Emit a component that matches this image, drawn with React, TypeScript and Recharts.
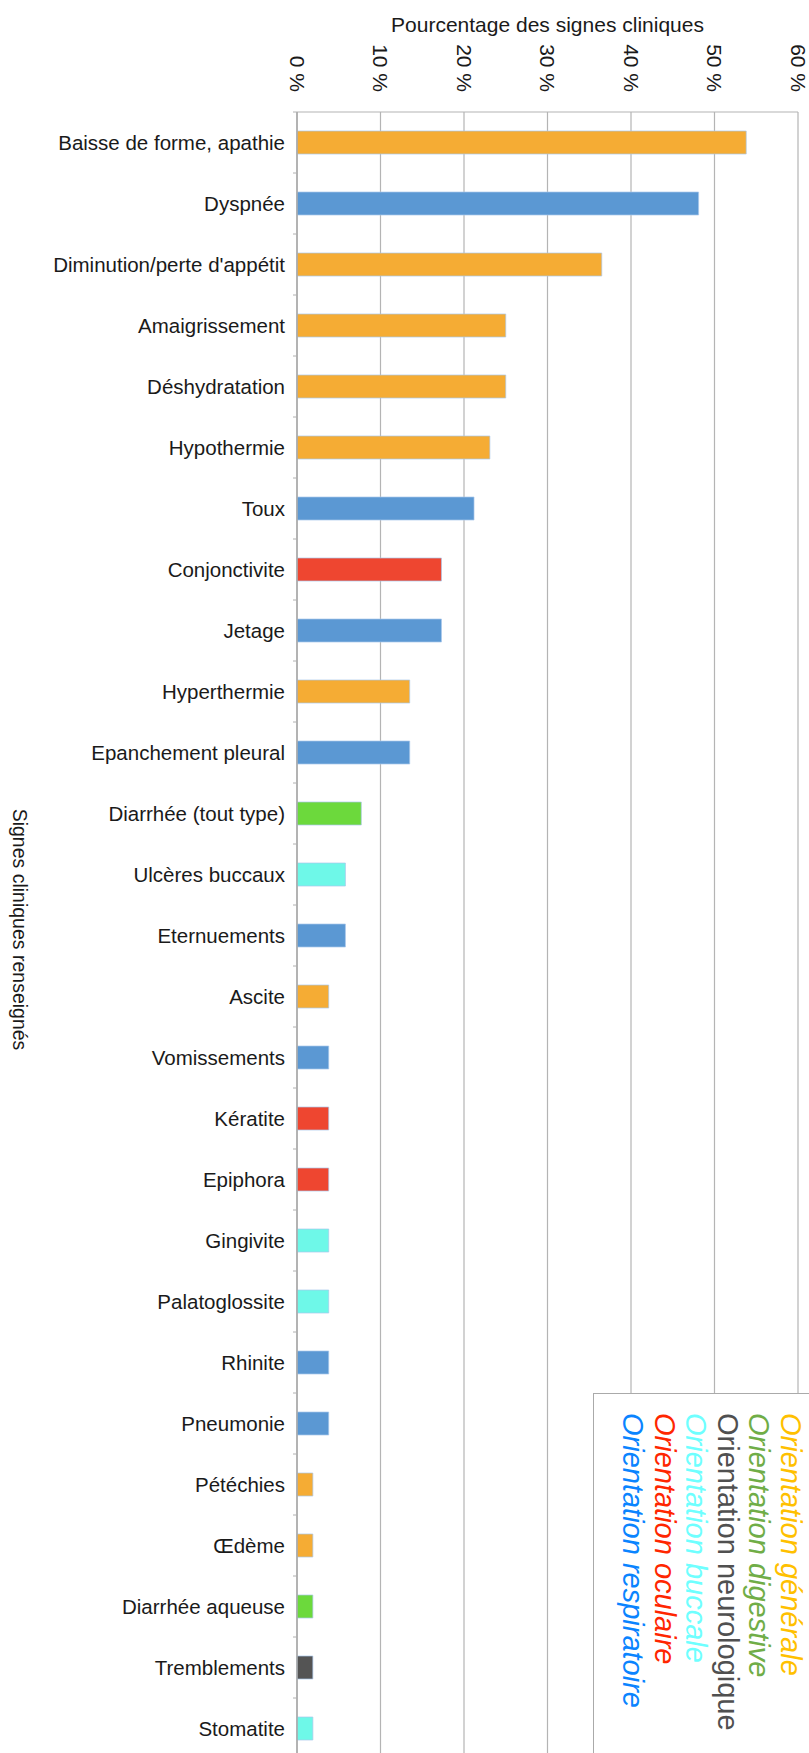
import { BarChart, Bar, XAxis, YAxis, CartesianGrid, Cell, Legend } from "recharts";

const FONT = '"Liberation Sans", Arial, Helvetica, sans-serif';

const CATEGORIES = [
  "Baisse de forme, apathie",
  "Dyspnée",
  "Diminution/perte d'appétit",
  "Amaigrissement",
  "Déshydratation",
  "Hypothermie",
  "Toux",
  "Conjonctivite",
  "Jetage",
  "Hyperthermie",
  "Epanchement pleural",
  "Diarrhée (tout type)",
  "Ulcères buccaux",
  "Eternuements",
  "Ascite",
  "Vomissements",
  "Kératite",
  "Epiphora",
  "Gingivite",
  "Palatoglossite",
  "Rhinite",
  "Pneumonie",
  "Pétéchies",
  "Œdème",
  "Diarrhée aqueuse",
  "Tremblements",
  "Stomatite",
];

const VALUES = [
  53.8, 48.1, 36.5, 25.0, 25.0, 23.1, 21.2, 17.3, 17.3, 13.5, 13.5, 7.7, 5.8, 5.8,
  3.8, 3.8, 3.8, 3.8, 3.8, 3.8, 3.8, 3.8, 1.9, 1.9, 1.9, 1.9, 1.9,
];

const GROUPS = [
  "generale", "respiratoire", "generale", "generale", "generale", "generale",
  "respiratoire", "oculaire", "respiratoire", "generale", "respiratoire",
  "digestive", "buccale", "respiratoire", "generale", "respiratoire", "oculaire",
  "oculaire", "buccale", "buccale", "respiratoire", "respiratoire", "generale",
  "generale", "digestive", "neurologique", "buccale",
];

const BAR_COLORS: Record<string, string> = {
  generale: "#F5AC34",
  respiratoire: "#5B98D3",
  oculaire: "#EE4630",
  digestive: "#6CD93C",
  buccale: "#6EF8E8",
  neurologique: "#545454",
};

const LEGEND_LABELS = [
  "Orientation générale",
  "Orientation digestive",
  "Orientation neurologique",
  "Orientation buccale",
  "Orientation oculaire",
  "Orientation respiratoire",
];
const LEGEND_COLORS = ["#FFC000", "#70AD47", "#505050", "#6FFFFF", "#FF2600", "#0A84FF"];
const LEGEND_ITALIC = [true, true, false, true, true, true];

const X_TICKS = [0, 10, 20, 30, 40, 50, 60];

const data = CATEGORIES.map((name, i) => ({ name, value: VALUES[i], group: GROUPS[i] }));

function PercentTick({ x, y, payload }: any) {
  return (
    <text
      transform={`translate(${x},${y}) rotate(90)`}
      textAnchor="end"
      dy="0.35em"
      fontSize={21}
      fontFamily={FONT}
      fill="#1a1a1a"
    >
      {payload.value} %
    </text>
  );
}

function SignTick({ x, y, payload, index }: any) {
  const half = payload.offset ?? 30.5;
  return (
    <g>
      <text x={x} y={y} dy="0.35em" textAnchor="end" fontSize={20.5} fontFamily={FONT} fill="#1a1a1a">
        {payload.value}
      </text>
      <line x1={x + 8} x2={x + 12} y1={y + half} y2={y + half} stroke="#b0b0b0" />
      {index === 0 && <line x1={x + 8} x2={x + 12} y1={y - half} y2={y - half} stroke="#b0b0b0" />}
    </g>
  );
}

function LegendBox() {
  return (
    <div
      style={{
        boxSizing: "border-box",
        width: "100%",
        height: "100%",
        background: "#fff",
        border: "1.5px solid #aaa",
        paddingTop: 19,
        paddingRight: 26,
        fontFamily: FONT,
        fontSize: 29,
        lineHeight: "31.6px",
        writingMode: "vertical-rl",
        textAlign: "left",
        whiteSpace: "nowrap",
      }}
    >
      {LEGEND_LABELS.map((label, i) => (
        <div
          key={label}
          style={{ color: LEGEND_COLORS[i], fontStyle: LEGEND_ITALIC[i] ? "italic" : "normal" }}
        >
          {label}
        </div>
      ))}
    </div>
  );
}

export default function App() {
  return (
    <div
      style={{
        position: "absolute",
        left: 0,
        top: 0,
        width: 809,
        height: 1753,
        overflow: "hidden",
        background: "#fff",
      }}
    >
      <BarChart
        width={809}
        height={1760}
        data={data}
        layout="vertical"
        margin={{ top: 42, right: 11, bottom: 1, left: 0 }}
        barCategoryGap={0}
      >
        <CartesianGrid
          stroke="#b4b4b4"
          strokeWidth={1.2}
          horizontalCoordinatesGenerator={({ offset }: any) => [offset.top, offset.top + offset.height]}
        />
        <XAxis
          type="number"
          orientation="top"
          domain={[0, 60]}
          ticks={X_TICKS}
          interval={0}
          height={70}
          axisLine={false}
          tickLine={false}
          tickSize={0}
          tickMargin={20}
          tick={<PercentTick />}
          label={{
            value: "Pourcentage des signes cliniques",
            position: "top",
            offset: 10,
            fontSize: 21,
            fontFamily: FONT,
            fill: "#1a1a1a",
          }}
        />
        <YAxis
          type="category"
          dataKey="name"
          width={297}
          interval={0}
          tickSize={4}
          tickMargin={8}
          tickLine={false}
          axisLine={{ stroke: "#a8a8a8", strokeWidth: 1.5 }}
          tick={<SignTick />}
          label={{
            content: ({ viewBox }: any) => (
              <text
                transform={`translate(20,${viewBox.y + viewBox.height / 2 - 6}) rotate(90)`}
                textAnchor="middle"
                dy="0.35em"
                fontSize={19.5}
                fontFamily={FONT}
                fill="#1a1a1a"
              >
                Signes cliniques renseignés
              </text>
            ),
          }}
        />
        <Legend
          layout="horizontal"
          verticalAlign="middle"
          align="center"
          content={() => <LegendBox />}
          wrapperStyle={{ left: 593, top: 1393, width: 240, height: 420 }}
        />
        <Bar
          dataKey="value"
          barSize={23}
          stroke="rgba(170,200,235,0.7)"
          strokeWidth={1}
          isAnimationActive={false}
        >
          {data.map((d, i) => (
            <Cell key={i} fill={BAR_COLORS[d.group]} />
          ))}
        </Bar>
      </BarChart>
    </div>
  );
}
